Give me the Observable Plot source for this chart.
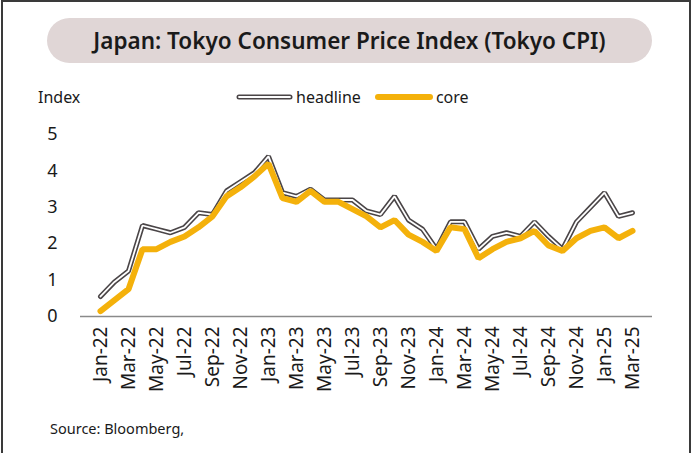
<!DOCTYPE html>
<html><head><meta charset="utf-8">
<script src="https://cdn.jsdelivr.net/npm/d3@7"></script>
<script src="https://cdn.jsdelivr.net/npm/@observablehq/plot@0.6"></script>
<style>
html,body{margin:0;padding:0;background:#fff;}
#frame{position:relative;width:694px;height:453px;overflow:hidden;font-family:"Noto Sans",sans-serif;color:#1a1a1a;}
#border{position:absolute;left:1px;top:0px;width:690px;height:470px;border:2px solid #3a3a3a;box-sizing:border-box;}
#title{position:absolute;left:47px;top:18px;width:605px;height:45px;border-radius:23px;background:#e0d6d6;display:flex;align-items:center;justify-content:center;font-size:22.5px;font-weight:600;letter-spacing:0px;}
#ylabel{position:absolute;left:38px;top:86px;font-size:16px;}
#legend{position:absolute;left:236px;top:86px;font-size:16px;display:flex;align-items:center;height:22px;}
#legend svg{display:block}
#legend span{margin-left:3px;}
#chart{position:absolute;left:0;top:110px;}
#source{position:absolute;left:50px;top:418px;font-size:14.5px;}
</style></head>
<body>
<div id="frame">
  <div id="border"></div>
  <div id="title">Japan: Tokyo Consumer Price Index (Tokyo CPI)</div>
  <div id="ylabel">Index</div>
  <div id="legend">
    <svg width="57" height="10"><line x1="3" y1="5" x2="54" y2="5" stroke="#4a4547" stroke-width="5" stroke-linecap="round"/><line x1="3" y1="5" x2="54" y2="5" stroke="#fff" stroke-width="1.8" stroke-linecap="round"/></svg>
    <span>headline</span>
    <svg width="58" height="10" style="margin-left:14px"><line x1="3" y1="5" x2="55" y2="5" stroke="#f4b10b" stroke-width="6" stroke-linecap="round"/></svg>
    <span>core</span>
  </div>
  <div id="chart"></div>
  <div id="source">Source: Bloomberg,</div>
</div>
<script>
const months = ["Jan-22","Feb-22","Mar-22","Apr-22","May-22","Jun-22","Jul-22","Aug-22","Sep-22","Oct-22","Nov-22","Dec-22",
  "Jan-23","Feb-23","Mar-23","Apr-23","May-23","Jun-23","Jul-23","Aug-23","Sep-23","Oct-23","Nov-23","Dec-23",
  "Jan-24","Feb-24","Mar-24","Apr-24","May-24","Jun-24","Jul-24","Aug-24","Sep-24","Oct-24","Nov-24","Dec-24",
  "Jan-25","Feb-25","Mar-25"];
const headline = [0.55,0.95,1.25,2.5,2.4,2.3,2.45,2.85,2.8,3.45,3.7,3.95,
  4.4,3.4,3.3,3.5,3.2,3.2,3.2,2.9,2.8,3.3,2.65,2.4,
  1.85,2.6,2.6,1.85,2.2,2.3,2.2,2.6,2.2,1.85,2.6,3.0,
  3.4,2.75,2.85];
const core = [0.15,0.45,0.75,1.85,1.85,2.05,2.2,2.45,2.75,3.3,3.55,3.85,
  4.2,3.25,3.15,3.45,3.15,3.15,2.95,2.75,2.45,2.65,2.25,2.05,
  1.8,2.45,2.4,1.6,1.85,2.05,2.15,2.35,1.95,1.8,2.15,2.35,
  2.45,2.15,2.35];
const yTicks = [0,1,2,3,4,5];
const xTicks = ["Jan-22","Mar-22","May-22","Jul-22","Sep-22","Nov-22","Jan-23","Mar-23","May-23","Jul-23","Sep-23","Nov-23",
  "Jan-24","Mar-24","May-24","Jul-24","Sep-24","Nov-24","Jan-25","Mar-25"];

const data = months.map((m, i) => ({month: m, headline: headline[i], core: core[i]}));

const chart = Plot.plot({
  width: 694, height: 290,
  marginLeft: 80, marginRight: 42, marginTop: 24, marginBottom: 84,
  x: {type: "point", domain: months, padding: 0.44, label: null},
  y: {domain: [0, 5], label: null},
  style: {fontFamily: "'Noto Sans', sans-serif", color: "#1a1a1a", background: "transparent", overflow: "visible"},
  marks: [
    Plot.axisY({ticks: yTicks, tickFormat: d => String(d), tickSize: 0, tickPadding: 23, fontSize: 18, label: null}),
    Plot.axisX({ticks: xTicks, tickSize: 0, tickRotate: -90, tickPadding: 10, fontSize: 19, label: null}),
    Plot.ruleY([0], {stroke: "#8a8a8a", strokeWidth: 1.5}),
    Plot.lineY(data, {x: "month", y: "headline", stroke: "#4a4547", strokeWidth: 5, strokeLinejoin: "miter"}),
    Plot.lineY(data, {x: "month", y: "headline", stroke: "#ffffff", strokeWidth: 1.8, strokeLinejoin: "miter"}),
    Plot.lineY(data, {x: "month", y: "core", stroke: "#f4b10b", strokeWidth: 6, strokeLinejoin: "miter"})
  ]
});
document.getElementById("chart").appendChild(chart);
</script>
</body></html>
